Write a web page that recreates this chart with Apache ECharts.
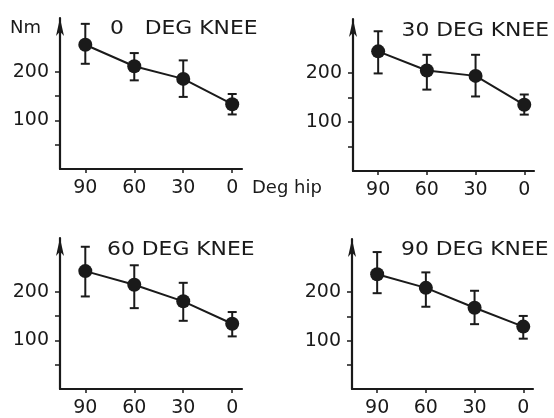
<!DOCTYPE html>
<html>
<head>
<meta charset="utf-8">
<script src="https://cdn.jsdelivr.net/npm/echarts@6/dist/echarts.min.js"></script>
<style>
html,body{margin:0;padding:0;background:#ffffff;}
#chart{width:554px;height:418px;}
</style>
</head>
<body>
<div id="chart"></div>
<script>
// ---- data ----
var hipAngles = [90, 60, 30, 0];
var xTickLabels = [90, 60, 30, 0];
var yTickValues = [50, 100, 150, 200];
var yTickLabels = [100, 200];

var panelTitles = ['0   DEG KNEE', '30 DEG KNEE', '60 DEG KNEE', '90 DEG KNEE'];

var knee0Mean  = [255, 211, 185, 133];
var knee0Upper = [298, 238, 223, 154];
var knee0Lower = [216, 182, 148, 112];

var knee30Mean  = [244, 205, 194, 135];
var knee30Upper = [285, 237, 237, 156];
var knee30Lower = [199, 166, 152, 115];

var knee60Mean  = [242, 214, 180, 134];
var knee60Upper = [292, 254, 218, 158];
var knee60Lower = [190, 166, 140, 108];

var knee90Mean  = [237, 209, 168, 129];
var knee90Upper = [283, 241, 203, 151];
var knee90Lower = [198, 170, 134, 104];

var yUnitLabel = 'Nm';
var xUnitLabel = 'Deg hip';

// ---- layout ----
var INK = '#1a1a1a';
var FONT = 'DejaVu Sans';
var grids = [
  {left: 60,  top: 18,  width: 182, height: 151},
  {left: 353, top: 19,  width: 181, height: 152},
  {left: 60,  top: 238, width: 182, height: 151},
  {left: 352, top: 239, width: 181, height: 151}
];
var titlePos = [[110, 29], [401.5, 31], [107, 250], [401, 250]];

var means = [knee0Mean, knee30Mean, knee60Mean, knee90Mean];
var uppers = [knee0Upper, knee30Upper, knee60Upper, knee90Upper];
var lowers = [knee0Lower, knee30Lower, knee60Lower, knee90Lower];

var xAxes = [], yAxes = [], series = [];
for (var i = 0; i < 4; i++) {
  xAxes.push({
    gridIndex: i, type: 'value', inverse: true, min: -6, max: 105.5,
    axisLine: {show: true, onZero: false, lineStyle: {color: INK, width: 2.2}},
    axisTick: {show: true, customValues: xTickLabels, length: 4, lineStyle: {color: INK, width: 1.5}},
    axisLabel: {customValues: xTickLabels, color: INK, fontSize: 19, fontFamily: FONT, margin: 10},
    splitLine: {show: false}
  });
  yAxes.push({
    gridIndex: i, type: 'value', min: 0, max: 310,
    axisLine: {show: true, onZero: false, symbol: ['none', 'arrow'], symbolSize: [6, 18],
               lineStyle: {color: INK, width: 2.2}},
    axisTick: {show: true, customValues: yTickValues, length: 5, lineStyle: {color: INK, width: 1.5}},
    axisLabel: {customValues: yTickLabels, color: INK, fontSize: 19, fontFamily: FONT, margin: 11},
    splitLine: {show: false}
  });
  var errData = [], lineData = [];
  for (var j = 0; j < hipAngles.length; j++) {
    errData.push([hipAngles[j], lowers[i][j], uppers[i][j]]);
    lineData.push([hipAngles[j], means[i][j]]);
  }
  series.push({
    type: 'custom', xAxisIndex: i, yAxisIndex: i, z: 2, silent: true,
    data: errData,
    encode: {x: 0, y: [1, 2]},
    renderItem: function (params, api) {
      var x = api.value(0);
      var lo = api.coord([x, api.value(1)]);
      var hi = api.coord([x, api.value(2)]);
      var cap = 4.5;
      var st = {stroke: INK, lineWidth: 2};
      return {
        type: 'group',
        children: [
          {type: 'line', shape: {x1: lo[0], y1: lo[1], x2: hi[0], y2: hi[1]}, style: st},
          {type: 'line', shape: {x1: hi[0] - cap, y1: hi[1], x2: hi[0] + cap, y2: hi[1]}, style: st},
          {type: 'line', shape: {x1: lo[0] - cap, y1: lo[1], x2: lo[0] + cap, y2: lo[1]}, style: st}
        ]
      };
    }
  });
  series.push({
    type: 'line', xAxisIndex: i, yAxisIndex: i, z: 3, silent: true,
    data: lineData,
    symbol: 'circle', symbolSize: 14,
    itemStyle: {color: INK},
    lineStyle: {color: INK, width: 2},
    animation: false
  });
}

var graphics = [];
for (var k = 0; k < 4; k++) {
  graphics.push({
    type: 'text', x: titlePos[k][0], y: titlePos[k][1], scaleX: 1.15,
    style: {text: panelTitles[k], fill: INK, font: '19px "' + FONT + '"',
            textAlign: 'left', textVerticalAlign: 'middle'}
  });
}
graphics.push({type: 'text', x: 10, y: 28,
  style: {text: yUnitLabel, fill: INK, font: '18px "' + FONT + '"', textAlign: 'left', textVerticalAlign: 'middle'}});
graphics.push({type: 'text', x: 252, y: 188,
  style: {text: xUnitLabel, fill: INK, font: '18px "' + FONT + '"', textAlign: 'left', textVerticalAlign: 'middle'}});

var chart = echarts.init(document.getElementById('chart'), null, {renderer: 'canvas'});
chart.setOption({
  backgroundColor: '#ffffff',
  animation: false,
  grid: grids,
  xAxis: xAxes,
  yAxis: yAxes,
  series: series,
  graphic: graphics
});
</script>
</body>
</html>
